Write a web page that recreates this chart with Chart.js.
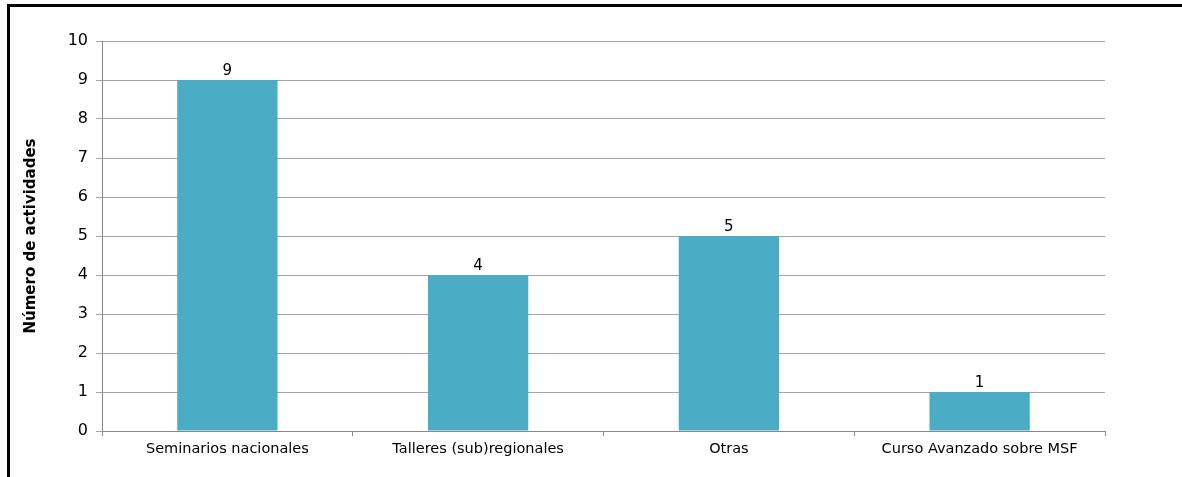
<!DOCTYPE html>
<html>
<head>
<meta charset="utf-8">
<script src="https://cdn.jsdelivr.net/npm/chart.js@4"></script>
<style>
  body { margin: 0; background: #fff; }
  #wrap { position: relative; width: 1182px; height: 477px; }
  #frameTop { position: absolute; left: 7px; top: 4px; width: 1175px; height: 3px; background: #000; }
  #frameLeft { position: absolute; left: 7px; top: 4px; width: 3px; height: 473px; background: #000; }
</style>
</head>
<body>
<div id="wrap">
  <canvas id="myChart" width="1182" height="477"></canvas>
  <div id="frameTop"></div>
  <div id="frameLeft"></div>
</div>
<script>
const categories = ["Seminarios nacionales", "Talleres (sub)regionales", "Otras", "Curso Avanzado sobre MSF"];
const activities = [9, 4, 5, 1];
const yMin = 0;
const yMax = 10;
const yStep = 1;

const ctx = document.getElementById('myChart').getContext('2d');
const fontFam = '"DejaVu Sans", Verdana, sans-serif';

// valores encima de cada barra
const barLabels = {
    id: 'barLabels',
    afterDatasetsDraw(chart) {
        const c = chart.ctx;
        const meta = chart.getDatasetMeta(0);
        c.save();
        c.font = '15px ' + fontFam;
        c.fillStyle = '#000';
        c.textAlign = 'center';
        c.textBaseline = 'bottom';
        meta.data.forEach((bar, i) => {
            c.fillText(chart.data.datasets[0].data[i], bar.x, bar.y - 1);
        });
        c.restore();
    }
};

new Chart(ctx, {
    type: 'bar',
    data: {
        labels: categories,
        datasets: [{
            label: 'Número de actividades',
            data: activities,
            backgroundColor: '#4BACC6',
            borderWidth: 0,
            categoryPercentage: 1,
            barPercentage: 0.4
        }]
    },
    options: {
        responsive: false,
        animation: false,
        layout: {
            padding: { left: 22, top: 41, right: 77, bottom: 0 }
        },
        plugins: {
            legend: { display: false },
            tooltip: { enabled: false }
        },
        scales: {
            x: {
                afterFit(scale) { scale.height = 46; },
                grid: {
                    drawOnChartArea: false,
                    drawTicks: true,
                    tickLength: 5,
                    color: '#888'
                },
                border: { color: '#888', width: 1 },
                ticks: {
                    color: '#000',
                    padding: 5,
                    maxRotation: 0,
                    font: { family: fontFam, size: 14.5 }
                }
            },
            y: {
                min: yMin,
                max: yMax,
                afterFit(scale) { scale.width = 80; },
                grid: {
                    color: '#A6A6A6',
                    tickLength: 6
                },
                border: { color: '#888', width: 1 },
                ticks: {
                    stepSize: yStep,
                    color: '#000',
                    padding: 8,
                    font: { family: fontFam, size: 16 }
                },
                title: {
                    display: true,
                    text: 'Número de actividades',
                    color: '#000',
                    padding: 0,
                    font: { family: fontFam, size: 15, weight: 'bold' }
                }
            }
        }
    },
    plugins: [barLabels]
});
</script>
</body>
</html>
